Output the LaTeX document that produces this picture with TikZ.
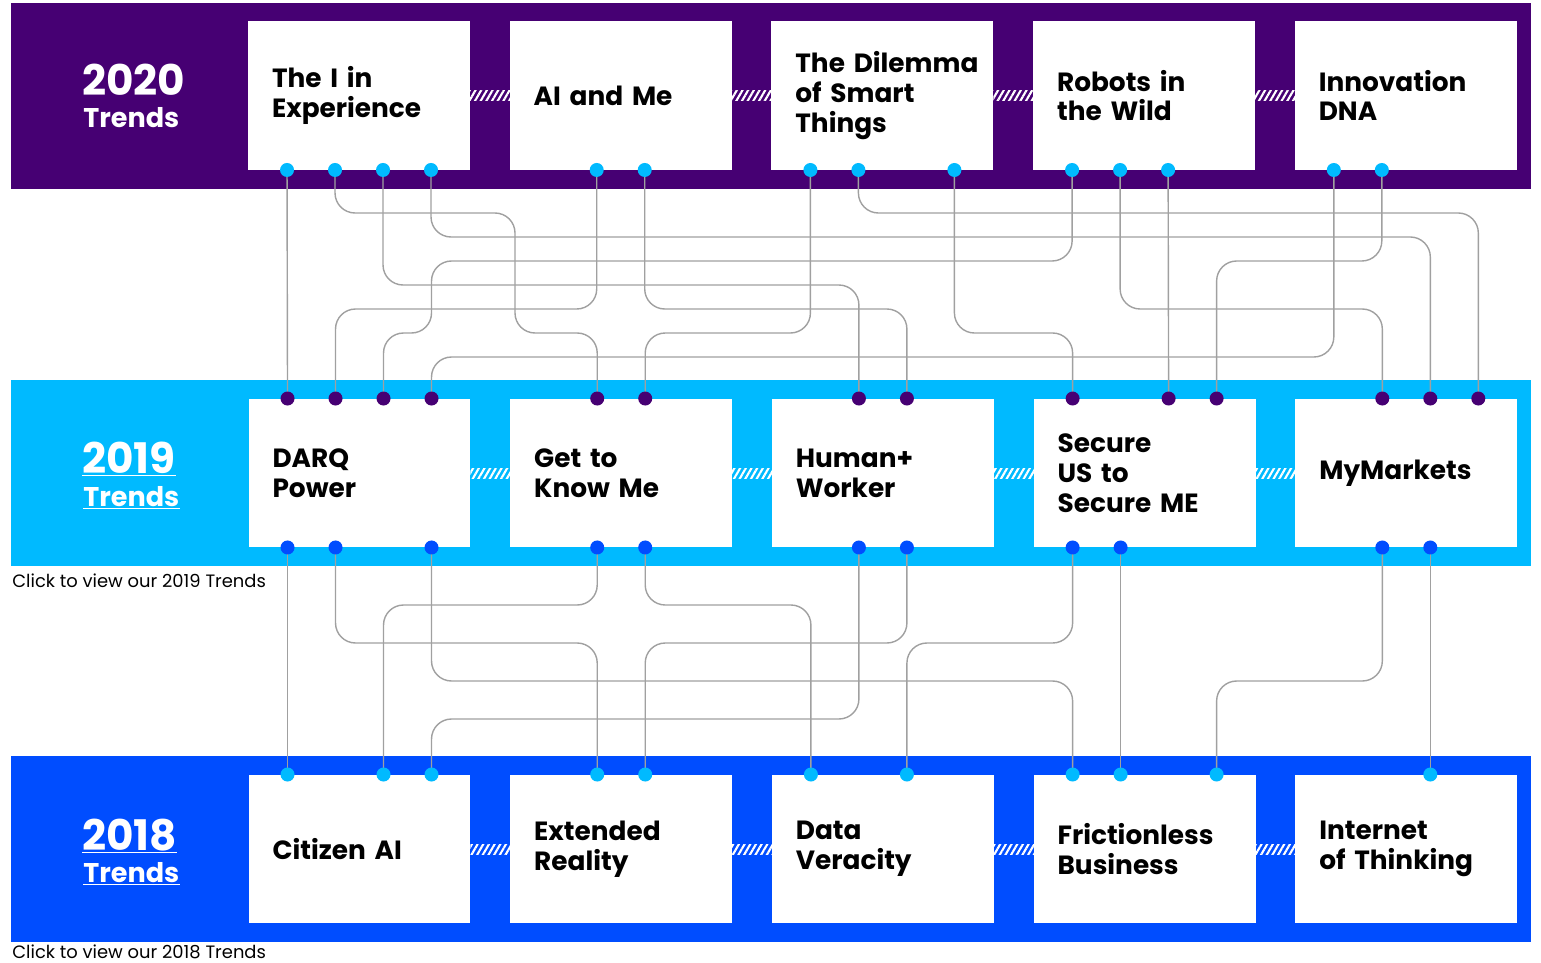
\documentclass[tikz,border=0pt]{standalone}
\usepackage{fontspec}
\setmainfont{Poppins}
\usetikzlibrary{positioning,calc,patterns.meta}

\definecolor{purp}{HTML}{460073}
\definecolor{sky}{HTML}{00BAFF}
\definecolor{royal}{HTML}{004DFF}
\definecolor{wirec}{HTML}{A0A0A0}

% one bend: down to a track, across, down again
\newcommand\trendlink[3]{\draw[wire] (#1) -- (#1 |- #2) -- (#3 |- #2) -- (#3);}
% white underline below a label
\newcommand\underrule[1]{\draw[uline] ($(#1.base west)+(0,2.5)$) -- ($(#1.base east)+(0,2.5)$);}

\begin{document}
\begin{tikzpicture}[
    x=0.02cm, y=-0.02cm,
    node distance=0.795cm,
    box/.style={fill=white, outer sep=0pt, minimum width=4.44cm, minimum height=2.98cm, text width=3.48cm, inner xsep=0.48cm, inner ysep=0pt, align=left, font=\fontsize{15pt}{17pt}\selectfont\bfseries},
    hatch/.style={minimum width=0.8cm, minimum height=0.2cm, inner sep=0pt, pattern={Lines[angle=60,distance=2.8pt,line width=1.2pt]}, pattern color=white},
    yearbig/.style={anchor=base west, inner sep=0pt, text=white, font=\fontsize{24pt}{26pt}\selectfont\bfseries},
    yearsmall/.style={anchor=base west, inner sep=0pt, text=white, font=\fontsize{15.4pt}{18pt}\selectfont\bfseries},
    note/.style={anchor=base west, inner sep=0pt, font=\fontsize{10.2pt}{12pt}\selectfont},
    wire/.style={draw=wirec, line width=0.8pt, rounded corners=0.4cm},
    uline/.style={draw=white, line width=0.9pt},
]
\useasboundingbox (0,0) rectangle (1541,963);

% bands
\fill[purp] (11,3) rectangle (1531,189);
\fill[sky] (11,380) rectangle (1531,566);
\fill[royal] (11,756) rectangle (1531,942);

% 2020
\node[box] (t20a) at (359,95.5) {The~I~in\\Experience};
\node[box, right=of t20a] (t20b) {AI~and~Me};
\node[box, right=of t20b] (t20c) {The~Dilemma\\of~Smart\\Things};
\node[box, right=of t20c] (t20d) {Robots~in\\the~Wild};
\node[box, right=of t20d] (t20e) {Innovation\\DNA};

% 2019
\node[box] (t19a) at (359.5,473) {DARQ\\Power};
\node[box, right=of t19a] (t19b) {Get~to\\Know~Me};
\node[box, right=of t19b] (t19c) {Human+\\Worker};
\node[box, right=of t19c] (t19d) {Secure\\US~to\\Secure~ME};
\node[box, right=of t19d] (t19e) {MyMarkets};

% 2018
\node[box] (t18a) at (359.5,849) {Citizen~AI};
\node[box, right=of t18a] (t18b) {Extended\\Reality};
\node[box, right=of t18b] (t18c) {Data\\Veracity};
\node[box, right=of t18c] (t18d) {Frictionless\\Business};
\node[box, right=of t18d] (t18e) {Internet\\of~Thinking};

% year labels
\node[yearbig] (y20) at (82,95) {2020};
\node[yearsmall] (y20t) at (83,128) {Trends};
\node[yearbig] (y19) at (82,473) {2019};
\node[yearsmall] (y19t) at (83,506) {Trends};
\node[yearbig] (y18) at (82,850) {2018};
\node[yearsmall] (y18t) at (83,882) {Trends};
\underrule{y19}
\underrule{y19t}
\underrule{y18}
\underrule{y18t}
\node[note] (c19) at (12,587) {Click to view our 2019 Trends};
\node[note] (c18) at (12,958) {Click to view our 2018 Trends};

% hatched joints
\foreach \l/\r in {a/b,b/c,c/d,d/e}{
  \path (t20\l) -- (t20\r) node[hatch, midway] (k20\l\r) {};
  \path (t19\l) -- (t19\r) node[hatch, midway] (k19\l\r) {};
  \path (t18\l) -- (t18\r) node[hatch, midway] (k18\l\r) {};
}

% pin slots
\foreach \b in {a,b,c,d,e}{
  \foreach \k in {0,1,2,3}{
    \coordinate (s20\b\k) at ($(t20\b.south west)+({39+48*\k},0)$);
    \coordinate (n19\b\k) at ($(t19\b.north west)+({39+48*\k},0)$);
    \coordinate (s19\b\k) at ($(t19\b.south west)+({39+48*\k},0)$);
    \coordinate (n18\b\k) at ($(t18\b.north west)+({39+48*\k},0)$);
  }
}

% tracks
\foreach \t in {213,237,261,285,309,333,357,605,643,681,719}
  \coordinate (y\t) at (0,\t);
\coordinate (jog) at (515,0);

% 2020 -> 2019
\draw[wire] (s20a0) -- (n19a0);
\draw[wire] (s20a1) -- (s20a1 |- y213) -- (jog |- y213) -- (jog |- y333) -- (n19b1 |- y333) -- (n19b1);
\trendlink{s20a2}{y285}{n19c1}
\trendlink{s20a3}{y237}{n19e2}
\trendlink{s20b1}{y309}{n19a1}
\trendlink{s20b2}{y309}{n19c2}
\trendlink{s20c0}{y333}{n19b2}
\trendlink{s20c1}{y213}{n19e3}
\trendlink{s20c3}{y333}{n19d0}
\draw[wire] (s20d0) -- (s20d0 |- y261) -- (n19a3 |- y261) -- (n19a3 |- y333) -- (n19a2 |- y333) -- (n19a2);
\trendlink{s20d1}{y309}{n19e1}
\draw[wire] (s20d2) -- (n19d2);
\trendlink{s20e0}{y357}{n19a3}
\trendlink{s20e1}{y261}{n19d3}

% 2019 -> 2018
\draw[wire] (s19a0) -- (n18a0);
\trendlink{s19a1}{y643}{n18b1}
\trendlink{s19a3}{y681}{n18d0}
\trendlink{s19b1}{y605}{n18a2}
\trendlink{s19b2}{y605}{n18c0}
\trendlink{s19c1}{y719}{n18a3}
\trendlink{s19c2}{y643}{n18b2}
\trendlink{s19d0}{y643}{n18c2}
\draw[wire] (s19d1) -- (n18d1);
\trendlink{s19e1}{y681}{n18d3}
\draw[wire] (s19e2) -- (n18e2);

% pins
\foreach \d in {a0,a1,a2,a3,b1,b2,c0,c1,c3,d0,d1,d2,e0,e1}
  \fill[sky] (s20\d) circle (0.14cm);
\foreach \d in {a0,a1,a2,a3,b1,b2,c1,c2,d0,d2,d3,e1,e2,e3}
  \fill[purp] (n19\d) circle (0.14cm);
\foreach \d in {a0,a1,a3,b1,b2,c1,c2,d0,d1,e1,e2}
  \fill[royal] (s19\d) circle (0.14cm);
\foreach \d in {a0,a2,a3,b1,b2,c0,c2,d0,d1,d3,e2}
  \fill[sky] (n18\d) circle (0.14cm);
\end{tikzpicture}
\end{document}
